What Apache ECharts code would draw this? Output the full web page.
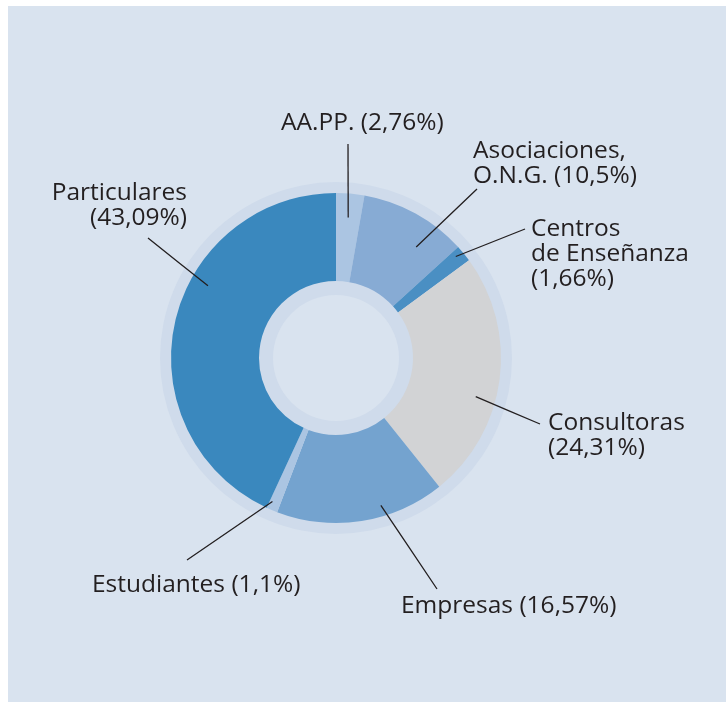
<!DOCTYPE html>
<html>
<head>
<meta charset="utf-8">
<script src="https://cdn.jsdelivr.net/npm/echarts@6/dist/echarts.min.js"></script>
<style>
  html, body { margin: 0; padding: 0; background: #fff; }
  #pie { width: 726px; height: 702px; }
</style>
</head>
<body>
<div id="pie"></div>
<script>
// datos (porcentajes), en el orden de las agujas del reloj desde arriba
var categories = ['AA.PP.', 'Asociaciones,\nO.N.G.', 'Centros\nde Enseñanza', 'Consultoras', 'Empresas', 'Estudiantes', 'Particulares'];
var values = [2.76, 10.5, 1.66, 24.31, 16.57, 1.1, 43.09];
var valueLabels = ['2,76%', '10,5%', '1,66%', '24,31%', '16,57%', '1,1%', '43,09%'];
var breaks = [' ', ' ', '\n', '\n', ' ', ' ', '\n'];
var colors = ['#abc5e2', '#87abd4', '#4a8fc3', '#d2d3d5', '#74a3cf', '#abc5e2', '#3a88be'];

// colocacion de etiquetas: [x, y, align, fin linea x, fin linea y, desfase angulo, radio ancla]
var labelPos = [
  [281, 111, 'left', 348, 144, 0, 141],
  [473, 139, 'left', 477, 189, 7, 137],
  [531, 217, 'left', 525, 229, -1, 157],
  [548, 411, 'left', 540, 424, 8, 145],
  [401, 594, 'left', 437, 589, -8, 154],
  [92, 573, 'left', 187, 560, 1, 157],
  [187, 181, 'right', 148, 238, 17, 147]
];

var cx = 336, cy = 358;
var total = values.reduce(function (a, b) { return a + b; }, 0);
var midAngles = [];
var acc = 0;
for (var i = 0; i < values.length; i++) {
  midAngles.push((acc + values[i] / 2) / total * 360);
  acc += values[i];
}

var pieData = categories.map(function (c, i) {
  return { value: values[i], name: c, itemStyle: { color: colors[i] } };
});

var myChart = echarts.init(document.getElementById('pie'));
myChart.setOption({
  backgroundColor: '#ffffff',
  animation: false,
  graphic: [{
    type: 'rect',
    z: -10,
    shape: { x: 8, y: 6, width: 718, height: 696 },
    style: { fill: '#d9e3ef' }
  }],
  series: [
    {
      // halo
      type: 'pie',
      silent: true,
      z: 1,
      center: [cx, cy],
      radius: [63, 176],
      label: { show: false },
      labelLine: { show: false },
      itemStyle: { color: '#cfdbeb' },
      data: [{ value: 1, name: 'halo' }]
    },
    {
      name: 'reparto',
      type: 'pie',
      z: 2,
      center: [cx, cy],
      radius: [77, 165],
      startAngle: 90,
      clockwise: true,
      label: { show: false },
      labelLine: { show: false },
      data: pieData
    },
    {
      // etiquetas y lineas encima de los sectores
      type: 'pie',
      silent: true,
      z: 3,
      center: [cx, cy],
      radius: [77, 165],
      startAngle: 90,
      clockwise: true,
      avoidLabelOverlap: false,
      itemStyle: { color: 'rgba(0,0,0,0)' },
      data: categories.map(function (c, i) { return { value: values[i], name: c }; }),
      label: {
        show: true,
        position: 'outside',
        color: '#231f20',
        fontFamily: 'Open Sans',
        fontSize: 24.5,
        lineHeight: 25,
        formatter: function (p) {
          return categories[p.dataIndex] + breaks[p.dataIndex] + '(' + valueLabels[p.dataIndex] + ')';
        }
      },
      labelLine: {
        show: true,
        lineStyle: { color: '#231f20', width: 1.3 }
      },
      labelLayout: function (params) {
        var lp = labelPos[params.dataIndex];
        var ang = (midAngles[params.dataIndex] + lp[5]) * Math.PI / 180;
        var sx = cx + lp[6] * Math.sin(ang);
        var sy = cy - lp[6] * Math.cos(ang);
        return {
          x: lp[0],
          y: lp[1],
          align: lp[2],
          verticalAlign: 'top',
          labelLinePoints: [[sx, sy], [(sx + lp[3]) / 2, (sy + lp[4]) / 2], [lp[3], lp[4]]]
        };
      }
    }
  ]
});
</script>
</body>
</html>
